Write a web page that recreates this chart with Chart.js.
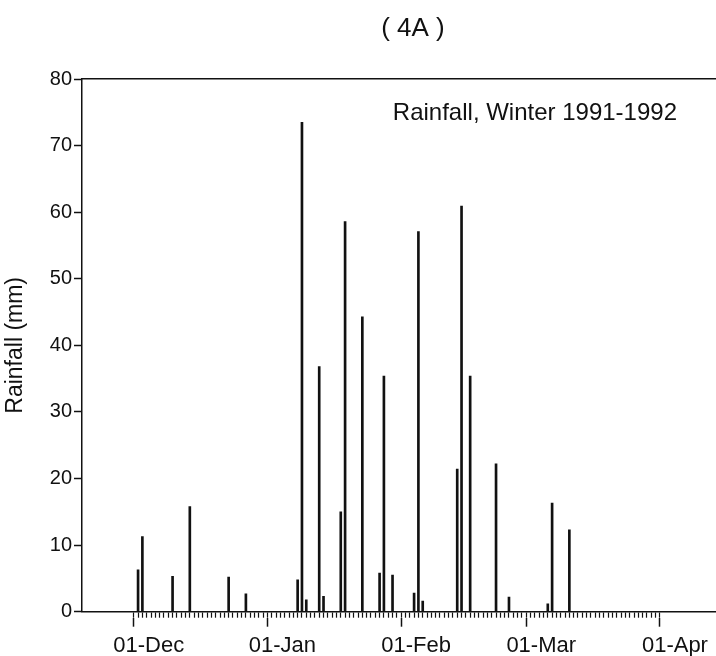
<!DOCTYPE html>
<html>
<head>
<meta charset="utf-8">
<script src="https://cdn.jsdelivr.net/npm/chart.js@4/dist/chart.umd.min.js"></script>
<style>
  html, body { margin: 0; padding: 0; background: #fff; }
  canvas { display: block; }
</style>
</head>
<body>
<canvas id="chart" width="716" height="656"></canvas>
<script>
const CHART_TITLE = "( 4A )";
const NOTE_TEXT = "Rainfall, Winter 1991-1992";
const Y_TITLE = "Rainfall (mm)";
const INK = "#111";
const CLEAR = "rgba(0,0,0,0)";
const FONT_FAMILY = '"Liberation Sans", Arial, Helvetica, sans-serif';

// first and last day shown on the axis
const START_DAY = "1991-11-19";
const END_DAY = "1992-04-14";
const MONTHS = ["Jan", "Feb", "Mar", "Apr", "May", "Jun", "Jul", "Aug", "Sep", "Oct", "Nov", "Dec"];

// days with rain, and the amount (mm)
const rainDays = [
  "02-Dec", "03-Dec", "10-Dec", "14-Dec", "23-Dec", "27-Dec",
  "08-Jan", "09-Jan", "10-Jan", "13-Jan", "14-Jan", "18-Jan", "19-Jan",
  "23-Jan", "27-Jan", "28-Jan", "30-Jan",
  "04-Feb", "05-Feb", "06-Feb", "14-Feb", "15-Feb", "17-Feb", "23-Feb", "26-Feb",
  "06-Mar", "07-Mar", "11-Mar"
];
const rainValues = [
  6.3, 11.3, 5.3, 15.8, 5.2, 2.7,
  4.8, 73.5, 1.8, 36.8, 2.3, 15.0, 58.6,
  44.3, 5.8, 35.4, 5.5,
  2.8, 57.1, 1.6, 21.4, 60.9, 35.4, 22.2, 2.2,
  1.2, 16.3, 12.3
];

// y axis ticks
const yTicks = [0, 10, 20, 30, 40, 50, 60, 70, 80];

function dayLabel(d) {
  const dd = String(d.getUTCDate()).padStart(2, "0");
  return dd + "-" + MONTHS[d.getUTCMonth()];
}

function buildDayLabels() {
  const labels = [];
  const d = new Date(START_DAY + "T00:00:00Z");
  const end = new Date(END_DAY + "T00:00:00Z");
  while (d <= end) {
    labels.push(dayLabel(d));
    d.setUTCDate(d.getUTCDate() + 1);
  }
  return labels;
}

const dayLabels = buildDayLabels();
const firstMinor = dayLabels.indexOf("01-Dec");
const lastMinor = dayLabels.indexOf("01-Apr");

const rainData = dayLabels.map((lbl) => {
  const i = rainDays.indexOf(lbl);
  return i === -1 ? null : rainValues[i];
});

function isMonthStart(i) {
  return dayLabels[i] !== undefined && dayLabels[i].startsWith("01-");
}

// no extra side padding for the date axes, the plot runs to the edge
function noSidePadding(scale) {
  scale.paddingLeft = 0;
  scale.paddingRight = 0;
}

// heading above the plot and the text inside it
const textPlugin = {
  id: "texts",
  afterDraw(chart) {
    const { ctx, chartArea } = chart;
    ctx.save();
    ctx.fillStyle = INK;

    ctx.font = "26px " + FONT_FAMILY;
    ctx.textAlign = "center";
    ctx.textBaseline = "middle";
    ctx.fillText(CHART_TITLE, (chartArea.left + chartArea.right) / 2 + 14, 29);

    ctx.font = "24px " + FONT_FAMILY;
    ctx.textAlign = "right";
    ctx.textBaseline = "alphabetic";
    ctx.fillText(NOTE_TEXT, chartArea.right - 39, chartArea.top + 41);
    ctx.restore();
  },
};

Chart.defaults.font.family = FONT_FAMILY;
Chart.defaults.color = INK;

const config = {
  type: "bar",
  data: {
    labels: dayLabels,
    datasets: [
      {
        label: NOTE_TEXT,
        data: rainData,
        backgroundColor: INK,
        borderWidth: 0,
        barThickness: 2,
        xAxisID: "x",
        yAxisID: "y",
      },
    ],
  },
  options: {
    responsive: false,
    animation: false,
    devicePixelRatio: 1,
    layout: { padding: { top: 79, right: 0, bottom: 0, left: 0 } },
    plugins: {
      legend: { display: false },
      tooltip: { enabled: false },
      title: { display: false },
    },
    scales: {
      x: {
        type: "category",
        position: "bottom",
        offset: false,
        grid: {
          offset: false,
          drawOnChartArea: false,
          tickLength: 6,
          tickWidth: 1.2,
          tickColor: (ctx) => (ctx.index >= firstMinor && ctx.index <= lastMinor ? INK : CLEAR),
        },
        border: { color: INK, width: 1.5 },
        ticks: { display: false },
        afterFit(scale) {
          scale.height = 6;
          noSidePadding(scale);
        },
      },
      x2: {
        type: "category",
        position: "bottom",
        offset: false,
        grid: {
          offset: false,
          drawOnChartArea: false,
          tickLength: 9,
          tickWidth: 1.5,
          tickColor: (ctx) => (isMonthStart(ctx.index) ? INK : CLEAR),
        },
        border: { display: false },
        ticks: {
          autoSkip: false,
          maxRotation: 0,
          minRotation: 0,
          labelOffset: 15,
          padding: 6,
          color: INK,
          font: { size: 22 },
          callback: (value, index) => (isMonthStart(index) ? dayLabels[index] : ""),
        },
        afterFit(scale) {
          scale.height = 38.3;
          noSidePadding(scale);
        },
      },
      xTop: {
        type: "linear",
        position: "top",
        grid: { drawOnChartArea: false, drawTicks: false },
        border: { color: INK, width: 1.5 },
        ticks: { display: false },
        afterFit(scale) {
          scale.height = 0;
          noSidePadding(scale);
        },
      },
      y: {
        type: "linear",
        min: yTicks[0],
        max: yTicks[yTicks.length - 1],
        afterBuildTicks(scale) {
          scale.ticks = yTicks.map((v) => ({ value: v }));
        },
        grid: {
          drawOnChartArea: false,
          tickLength: 8,
          tickWidth: 1.5,
          tickColor: INK,
        },
        border: { color: INK, width: 1.5 },
        ticks: { color: INK, font: { size: 20 }, padding: 2 },
        title: {
          display: true,
          text: Y_TITLE,
          color: INK,
          font: { size: 23 },
          padding: { top: 2, bottom: 0 },
        },
        afterFit(scale) {
          scale.width = 82;
        },
      },
    },
  },
  plugins: [textPlugin],
};

let chart = new Chart(document.getElementById("chart"), config);
</script>
</body>
</html>
